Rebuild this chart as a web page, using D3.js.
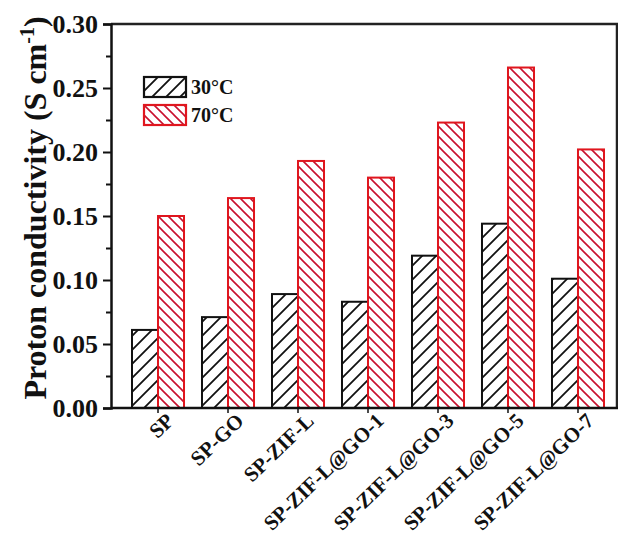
<!DOCTYPE html>
<head>
  <meta charset="utf-8">
  <script src="https://d3js.org/d3.v7.min.js"></script>
  <style>
    body { margin: 0; background: #fff; }
    svg { display: block; }
    text { font-family: "Liberation Serif", "Times New Roman", serif; font-weight: bold; fill: #111; }
  </style>
</head>
<body>
  <svg width="618" height="542"></svg>
  <script>
    // data
    var samples = ['SP', 'SP-GO', 'SP-ZIF-L', 'SP-ZIF-L@GO-1', 'SP-ZIF-L@GO-3', 'SP-ZIF-L@GO-5', 'SP-ZIF-L@GO-7'];
    var series = ['30°C', '70°C'];
    var cond30 = [0.061, 0.071, 0.089, 0.083, 0.119, 0.144, 0.101];
    var cond70 = [0.150, 0.164, 0.193, 0.180, 0.223, 0.266, 0.202];
    var yTicks = [0, 0.05, 0.10, 0.15, 0.20, 0.25, 0.30];
    var yMinor = [0.025, 0.075, 0.125, 0.175, 0.225, 0.275];

    var pLeft = 111, pRight = 617, pTop = 24, pBottom = 408;
    var svg = d3.select('svg');

    var y = d3.scaleLinear().domain([0, 0.30]).range([pBottom, pTop]);
    var x = d3.scaleBand().domain(samples)
      .range([123, 613]).paddingInner(0.257).paddingOuter(0.1286);
    var xs = d3.scaleBand().domain(series).range([0, x.bandwidth()]);

    // hatch patterns
    var defs = svg.append('defs');
    function hatch(id, s, color, w, dir) {
      var p = defs.append('pattern').attr('id', id)
        .attr('patternUnits', 'userSpaceOnUse')
        .attr('width', s).attr('height', s);
      var d = dir > 0
        ? 'M0,' + s + ' L' + s + ',0 M-2,2 L2,-2 M' + (s - 2) + ',' + (s + 2) + ' L' + (s + 2) + ',' + (s - 2)
        : 'M0,0 L' + s + ',' + s + ' M-2,' + (s - 2) + ' L2,' + (s + 2) + ' M' + (s - 2) + ',-2 L' + (s + 2) + ',2';
      p.append('path').attr('d', d).attr('stroke', color).attr('stroke-width', w);
    }
    hatch('h30', 14, '#111', 1.8, 1);
    hatch('h70', 10, '#c8102e', 1.6, -1);
    var fills = {'30°C': 'url(#h30)', '70°C': 'url(#h70)'};
    var strokes = {'30°C': '#111', '70°C': '#e0161e'};

    var rows = samples.map(function(s, i) {
      return {name: s, vals: [{k: '30°C', v: cond30[i]}, {k: '70°C', v: cond70[i]}]};
    });

    // bars
    var g = svg.selectAll('g.grp').data(rows).enter().append('g')
      .attr('class', 'grp')
      .attr('transform', function(d) { return 'translate(' + x(d.name) + ',0)'; });
    g.selectAll('rect').data(function(d) { return d.vals; }).enter().append('rect')
      .attr('x', function(d) { return xs(d.k); })
      .attr('y', function(d) { return y(d.v); })
      .attr('width', xs.bandwidth())
      .attr('height', function(d) { return pBottom - y(d.v); })
      .attr('fill', function(d) { return fills[d.k]; })
      .attr('stroke', function(d) { return strokes[d.k]; })
      .attr('stroke-width', 2);

    // frame
    svg.append('path')
      .attr('d', 'M' + pLeft + ',' + pTop + ' L' + pRight + ',' + pTop + ' L' + pRight + ',' + pBottom)
      .attr('fill', 'none').attr('stroke', '#222').attr('stroke-width', 2.5);

    // y axis
    var yAxis = svg.append('g').attr('transform', 'translate(' + pLeft + ',0)')
      .call(d3.axisLeft(y).tickValues(yTicks).tickFormat(d3.format('.2f')).tickSize(8).tickPadding(5));
    yAxis.select('.domain').attr('stroke', '#111').attr('stroke-width', 2.5);
    yAxis.selectAll('.tick line').attr('stroke', '#111').attr('stroke-width', 2);
    yAxis.selectAll('.tick text').attr('font-size', 26).attr('font-family', null).attr('fill', '#111');
    svg.append('g').attr('transform', 'translate(' + pLeft + ',0)')
      .call(d3.axisLeft(y).tickValues(yMinor).tickFormat('').tickSize(5))
      .call(function(a) {
        a.select('.domain').remove();
        a.selectAll('line').attr('stroke', '#111').attr('stroke-width', 2);
      });

    // x axis
    var xAxis = svg.append('g').attr('transform', 'translate(0,' + pBottom + ')')
      .call(d3.axisBottom(x).tickSize(5).tickSizeOuter(0));
    xAxis.select('.domain').attr('d', 'M' + pLeft + ',0 H618').attr('stroke', '#111').attr('stroke-width', 2.5);
    xAxis.selectAll('.tick line').attr('stroke', '#111').attr('stroke-width', 1.5);
    xAxis.selectAll('.tick text')
      .attr('font-size', 21).attr('font-family', null).attr('fill', '#111')
      .attr('text-anchor', 'end')
      .attr('transform', 'translate(9,6) rotate(-44)')
      .attr('dy', '0.55em').attr('y', 0);

    // y title
    var yt = svg.append('text')
      .attr('transform', 'translate(46,208) rotate(-90)')
      .attr('text-anchor', 'middle').attr('font-size', 32);
    yt.append('tspan').text('Proton conductivity (S cm');
    yt.append('tspan').attr('dy', -12).attr('font-size', 20).text('-1');
    yt.append('tspan').attr('dy', 12).text(')');

    // legend
    var leg = svg.selectAll('g.leg').data(series).enter().append('g')
      .attr('class', 'leg')
      .attr('transform', function(d, i) { return 'translate(144,' + (77 + i * 28) + ')'; });
    leg.append('rect').attr('width', 42).attr('height', 20)
      .attr('fill', function(d) { return fills[d]; })
      .attr('stroke', function(d) { return strokes[d]; })
      .attr('stroke-width', 2.2);
    leg.append('text').attr('x', 47).attr('y', 17).attr('font-size', 20).text(function(d) { return d; });
  </script>
</body>
